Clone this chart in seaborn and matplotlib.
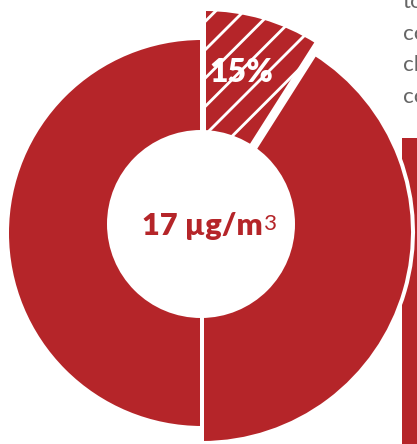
import numpy as np
import matplotlib.pyplot as plt
import seaborn as sns
from matplotlib.patches import Circle, Rectangle

# shares of the ring as drawn (hatched part, right half, left half)
segments = ["hatched", "right", "left"]
shares = [9, 41, 50]
share_label = "15%"
centre_label = "17 µg/m"
centre_sup = "3"
side_text = ["to", "co", "cl", "co"]

red = "#b52529"
W, H, DPI = 417, 444, 170

sns.set_theme(style="white")
plt.rcParams['font.family'] = ['Lato', 'DejaVu Sans']
plt.rcParams['hatch.linewidth'] = 1.2

fig = plt.figure(figsize=(W / DPI, H / DPI), dpi=DPI)
ax = fig.add_axes([0, 0, 1, 1])

# each ring piece has its own centre / radius (exploded look)
geom = {"hatched": ((204, 224), 211),
        "right": ((202, 212), 211),
        "left": ((202, 211), 195)}

edge_lw = 4 * 72 / DPI
for i, seg in enumerate(segments):
    c, r = geom[seg]
    wedges, _ = ax.pie(shares, startangle=90, counterclock=False, center=c, radius=r,
                       colors=[red] * len(shares),
                       wedgeprops=dict(edgecolor="white", linewidth=edge_lw))
    for j, w in enumerate(wedges):
        if j != i:
            w.set_visible(False)
        w.set_zorder(3)
    if seg == "hatched":
        wedges[i].set_hatch("//")

# hole of the donut
ax.add_patch(Circle((201, 220), 94, facecolor="white", edgecolor="none", zorder=4))

# piece of the neighbouring panel, cut by the crop
ax.add_patch(Rectangle((402, 0), 20, 306, facecolor=red, edgecolor="none", zorder=1))

ax.text(241, 372, share_label, color="white", fontsize=13.5, fontweight="heavy",
        ha="center", va="center", zorder=5)
t = ax.text(142, 209, centre_label, color=red, fontsize=13, fontweight="heavy",
            ha="left", va="baseline", zorder=5)
ax.annotate(centre_sup, xy=(1, 0.92), xycoords=t, xytext=(0.5, 0), textcoords="offset points",
            color=red, fontsize=9.5, ha="left", va="top", zorder=5)

for k, s in enumerate(side_text):
    ax.text(403, 436 - k * 31.7, s, color="#666666", fontsize=9.5,
            ha="left", va="baseline")

ax.set_xlim(0, W)
ax.set_ylim(0, H)
ax.set_aspect("equal")
ax.axis("off")

fig.savefig("out.png", dpi=DPI)
